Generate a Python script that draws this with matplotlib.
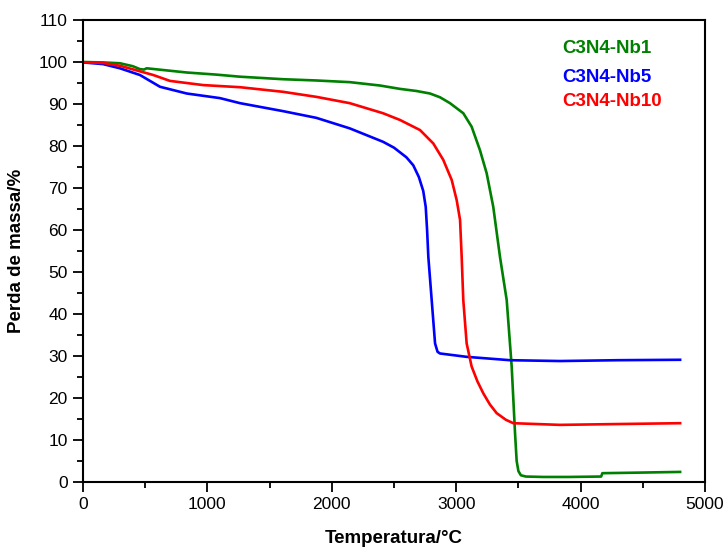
import numpy as np
import matplotlib
matplotlib.use("Agg")
import matplotlib.pyplot as plt
from matplotlib.ticker import MultipleLocator

plt.rcParams.update({"font.family": ["Liberation Sans", "DejaVu Sans"]})

# ----------------------------------------------------------------------
# TGA curves, values
# ----------------------------------------------------------------------
nb1_t = [0, 160, 297, 400, 458, 490, 512, 834, 1070, 1262, 1608, 1876,
         2146, 2387, 2548, 2680, 2789, 2870, 2950, 3057, 3124, 3191, 3245,
         3298, 3352, 3406, 3446, 3473, 3486, 3500, 3520, 3560, 3700, 3900,
         4165, 4175, 4400, 4600, 4800]
nb1_m = [100.0, 99.9, 99.7, 99.0, 98.3, 98.2, 98.5, 97.5, 97.0, 96.5, 95.9,
         95.6, 95.2, 94.4, 93.6, 93.1, 92.5, 91.6, 90.2, 87.8, 84.6, 79.0,
         73.5, 65.5, 53.6, 43.3, 27.5, 11.6, 5.0, 2.6, 1.6, 1.3, 1.2, 1.2,
         1.3, 2.1, 2.2, 2.3, 2.4]

nb5_t = [0, 161, 297, 458, 619, 834, 1101, 1262, 1608, 1876, 2144, 2412,
         2500, 2600, 2655, 2700, 2735, 2755, 2766, 2776, 2803, 2830, 2850,
         2870, 3084, 3432, 3834, 4300, 4800]
nb5_m = [99.9, 99.5, 98.5, 96.9, 94.1, 92.5, 91.4, 90.2, 88.3, 86.7, 84.2,
         81.0, 79.6, 77.3, 75.4, 72.6, 69.3, 65.5, 60.0, 53.6, 43.3, 33.0,
         31.0, 30.6, 29.8, 29.0, 28.8, 29.0, 29.1]

nb10_t = [0, 161, 297, 565, 699, 967, 1262, 1608, 1876, 2144, 2412, 2548,
          2709, 2816, 2896, 2964, 3004, 3031, 3044, 3057, 3084, 3124, 3170,
          3218, 3270, 3325, 3400, 3459, 3834, 4300, 4800]
nb10_m = [99.9, 99.8, 99.1, 96.9, 95.5, 94.5, 94.0, 92.9, 91.7, 90.2, 87.8,
          86.2, 83.8, 80.6, 76.7, 71.9, 67.1, 62.4, 53.6, 43.3, 33.0, 27.5,
          24.0, 21.1, 18.5, 16.4, 14.8, 14.0, 13.6, 13.8, 14.0]

series = [("C3N4-Nb1", nb1_t, nb1_m, "#008000"),
          ("C3N4-Nb5", nb5_t, nb5_m, "#0000FF"),
          ("C3N4-Nb10", nb10_t, nb10_m, "#FF0000")]
label_y = [103.3, 96.4, 90.7]

fig = plt.figure(figsize=(7.27, 5.49), dpi=100)
ax = fig.add_axes([83 / 727, 1 - 482 / 549, (705 - 83) / 727, (482 - 20) / 549])

for (name, t, m, c), ly in zip(series, label_y):
    ax.plot(t, m, color=c, lw=1.9)
    ax.text(3850, ly, name, color=c, fontsize=13.5, fontweight="bold",
            va="center", ha="left")

ax.set_xlim(0, 5000)
ax.set_ylim(0, 110)
ax.xaxis.set_major_locator(MultipleLocator(1000))
ax.xaxis.set_minor_locator(MultipleLocator(500))
ax.yaxis.set_major_locator(MultipleLocator(10))
ax.yaxis.set_minor_locator(MultipleLocator(5))
ax.tick_params(which="major", direction="out", length=7, width=1.3,
               labelsize=12.5, pad=4)
ax.tick_params(which="minor", direction="out", length=4, width=1.3)
for s in ax.spines.values():
    s.set_linewidth(1.5)

ax.set_xlabel("Temperatura/°C", fontsize=13.5, fontweight="bold", labelpad=13)
ax.set_ylabel("Perda de massa/%", fontsize=13.5, fontweight="bold", labelpad=10)

fig.savefig("out.png", dpi=100)
